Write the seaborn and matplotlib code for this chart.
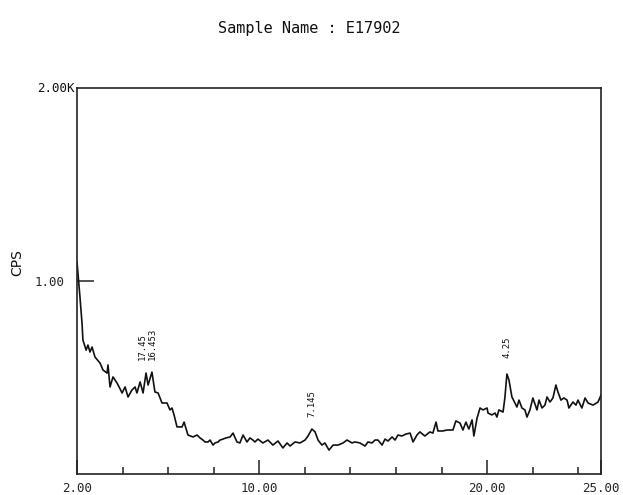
import matplotlib
matplotlib.use("Agg")
import matplotlib.pyplot as plt
import seaborn as sns
import pandas as pd

# ---- data ----
two_theta = [2.00, 2.13, 2.22, 2.26, 2.40, 2.48, 2.57, 2.66, 2.79, 3.01, 3.14, 3.32, 3.36, 3.45,
             3.58, 3.76, 3.98, 4.11, 4.24, 4.41, 4.55, 4.63, 4.77, 4.90, 5.03, 5.12, 5.29, 5.42,
             5.56, 5.73, 5.95, 6.08, 6.17, 6.26, 6.39, 6.61, 6.70, 6.87, 7.09, 7.27, 7.40, 7.53,
             7.62, 7.75, 7.84, 7.97, 8.06, 8.19, 8.28, 8.41, 8.54, 8.72, 8.85, 9.02, 9.15, 9.29,
             9.46, 9.59, 9.72, 9.81, 9.94, 10.16, 10.38, 10.60, 10.82, 11.04, 11.22, 11.35, 11.57,
             11.79, 12.01, 12.14, 12.31, 12.45, 12.58, 12.75, 12.88, 13.06, 13.24, 13.46, 13.68,
             13.85, 14.07, 14.20, 14.42, 14.64, 14.77, 14.95, 15.08, 15.21, 15.39, 15.52, 15.65,
             15.83, 15.96, 16.09, 16.26, 16.44, 16.62, 16.75, 16.92, 17.05, 17.27, 17.49, 17.62,
             17.76, 17.84, 18.06, 18.24, 18.37, 18.50, 18.63, 18.81, 18.94, 19.07, 19.20, 19.34,
             19.42, 19.56, 19.69, 19.82, 20.00, 20.04, 20.21, 20.35, 20.43, 20.52, 20.70, 20.78,
             20.87, 20.96, 21.09, 21.22, 21.31, 21.40, 21.53, 21.66, 21.75, 21.88, 22.01, 22.19,
             22.28, 22.41, 22.54, 22.63, 22.76, 22.89, 23.02, 23.11, 23.24, 23.37, 23.51, 23.59,
             23.77, 23.90, 23.99, 24.16, 24.30, 24.43, 24.65, 24.87, 25.00]
cps = [1098, 917, 782, 694, 642, 668, 632, 658, 606, 575, 539, 523, 565, 451,
       503, 471, 420, 451, 399, 435, 451, 420, 477, 420, 523, 461, 528, 425,
       420, 368, 368, 332, 342, 306, 244, 244, 269, 202, 192, 202, 187, 176,
       166, 166, 176, 150, 161, 166, 176, 181, 187, 192, 212, 166, 161, 202,
       166, 187, 176, 166, 181, 161, 176, 150, 171, 135, 161, 145, 166,
       161, 176, 197, 233, 218, 176, 150, 161, 124, 150, 150, 161,
       176, 161, 166, 161, 145, 166, 161, 176, 176, 150, 181, 171,
       192, 176, 202, 197, 207, 212, 166, 202, 218, 197, 218, 212,
       269, 223, 223, 228, 228, 228, 275, 264, 228, 269, 233, 280,
       197, 290, 342, 332, 342, 316, 306, 316, 295, 332, 321, 394,
       518, 487, 399, 368, 347, 383, 342, 332, 295, 332, 394, 332,
       383, 342, 357, 399, 373, 394, 461, 425, 383, 394, 383, 342,
       373, 357, 383, 342, 394, 368, 357, 373, 409]

peak_labels = ["17.45", "16.453", "7.145", "4.25"]
peak_pos = [4.88, 5.30, 12.33, 20.87]
peak_height = [590, 590, 295, 600]

x_tick_values = [2, 10, 20, 25]
x_tick_labels = ["2.00", "10.00", "20.00", "25.00"]
x_minor_values = [4, 6, 8, 12, 14, 16, 18, 22, 24]
y_tick_values = [1000]
y_tick_labels = ["1.00"]

df = pd.DataFrame({"two_theta": two_theta, "cps": cps})

sns.set_style("white")
plt.rcParams["font.family"] = ["DejaVu Sans Mono", "DejaVu Sans"]

fig = plt.figure(figsize=(6.23, 4.95), dpi=100)
ax = fig.add_axes([0.1236, 0.0424, 0.8411, 0.7798])

sns.lineplot(data=df, x="two_theta", y="cps", ax=ax, color="#111111",
             linewidth=1.2, sort=False, estimator=None)

ax.set_xlim(2, 25)
ax.set_ylim(0, 2000)
ax.set_xlabel("")
ax.set_ylabel("")

for s in ax.spines.values():
    s.set_color("#222222")
    s.set_linewidth(1.2)

ax.set_xticks(x_tick_values)
ax.set_xticklabels(x_tick_labels, fontsize=9)
ax.set_xticks(x_minor_values, minor=True)
ax.tick_params(axis="x", which="major", direction="in", length=10, width=1.1,
               color="#222222", pad=6, bottom=True)
ax.tick_params(axis="x", which="minor", direction="in", length=5, width=1.1,
               color="#222222", bottom=True)

ax.set_yticks(y_tick_values)
ax.set_yticklabels(y_tick_labels, fontsize=9)
ax.tick_params(axis="y", which="major", direction="in", length=12, width=1.1,
               color="#222222", pad=9, left=True)

ax.text(-0.004, 1.0, "2.00K", transform=ax.transAxes, ha="right", va="center",
        fontsize=9, color="#111111")
fig.text(0.028, 0.47, "CPS", rotation=90, ha="center", va="center",
         fontsize=10, family="DejaVu Sans", color="#111111")

fig.text(0.497, 0.943, "Sample Name : E17902", ha="center", va="center",
         fontsize=11, color="#111111")

for lab, px, py in zip(peak_labels, peak_pos, peak_height):
    ax.text(px, py, lab, rotation=90, ha="center", va="bottom",
            fontsize=6.5, color="#111111")

fig.savefig("out.png", dpi=100, facecolor="white")
